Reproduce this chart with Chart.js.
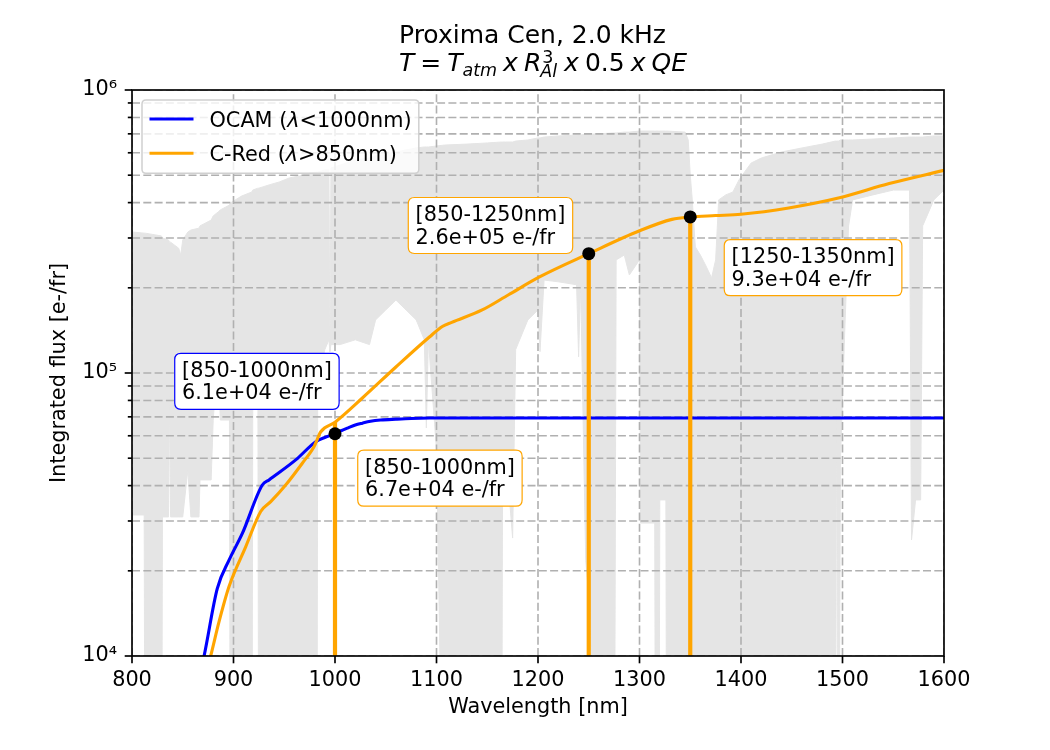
<!DOCTYPE html>
<html>
<head>
<meta charset="utf-8">
<script src="https://cdn.jsdelivr.net/npm/chart.js@4.4.1/dist/chart.umd.min.js"></script>
<style>
html,body{margin:0;padding:0;background:#ffffff;}
#wrap{width:1050px;height:750px;}
</style>
</head>
<body>
<div id="wrap"><canvas id="c" width="1050" height="750"></canvas></div>
<script>
// ---------------- data ----------------
const titleLine1 = 'Proxima Cen, 2.0 kHz';
const xTitle = 'Wavelength [nm]';
const yTitle = 'Integrated flux [e-/fr]';

const xTickValues = [800, 900, 1000, 1100, 1200, 1300, 1400, 1500, 1600];
const yTickValues = [1e4, 2e4, 3e4, 4e4, 5e4, 6e4, 7e4, 8e4, 9e4,
                     1e5, 2e5, 3e5, 4e5, 5e5, 6e5, 7e5, 8e5, 9e5, 1e6];
const yMajorValues = [1e4, 1e5, 1e6];
const yMajorLabels = ['10⁴', '10⁵', '10⁶'];

const seriesLabels = ['OCAM (λ<1000nm)', 'C-Red (λ>850nm)'];

const ocamWl   = [868, 871, 884, 895.6, 908.7, 928.4, 935, 961.3, 981, 991, 1000, 1006, 1013, 1020, 1027, 1035, 1045, 1060, 1075, 1093, 1200, 1600];
const ocamFlux = [9.0e3, 1.0e4, 1.73e4, 2.18e4, 2.71e4, 4.02e4, 4.19e4, 4.93e4, 5.72e4, 5.94e4, 6.1e4, 6.25e4, 6.4e4, 6.55e4, 6.65e4, 6.75e4, 6.82e4, 6.87e4, 6.91e4, 6.93e4, 6.93e4, 6.93e4];

const credWl   = [874, 877.5, 885.7, 895.6, 912, 926.8, 936.7, 951.4, 967.8, 979.3, 986, 1000, 1027, 1060, 1093, 1105.7, 1115, 1145, 1171, 1201, 1250, 1300, 1332, 1350, 1375, 1400, 1447, 1497, 1546, 1600];
const credFlux = [9.0e3, 1.0e4, 1.32e4, 1.76e4, 2.43e4, 3.24e4, 3.51e4, 4.02e4, 4.8e4, 5.49e4, 6.2e4, 6.7e4, 8.16e4, 1.05e5, 1.34e5, 1.46e5, 1.51e5, 1.67e5, 1.89e5, 2.18e5, 2.64e5, 3.18e5, 3.49e5, 3.56e5, 3.6e5, 3.64e5, 3.83e5, 4.16e5, 4.67e5, 5.2e5];

// band edges where integrated flux is marked
const markWl      = [1000, 1250, 1350];
const markFlux    = [6.1e4, 2.64e5, 3.56e5];
const markLineTop = [6.7e4, 2.64e5, 3.56e5];

// atmospheric transmission (scaled), upper and lower envelope of the dense spectrum
const atmWl = [800, 812, 813, 829, 830, 836, 837, 838, 846, 848, 850, 855, 858, 866, 867, 878, 880, 885, 887, 896, 897, 908, 918, 919, 924, 925, 935, 945, 955, 965, 975, 982, 983, 990, 994, 995, 996, 1005, 1020, 1034, 1040, 1050, 1060, 1070, 1080, 1088, 1090, 1092, 1100, 1108, 1130, 1150, 1164, 1165, 1168, 1175, 1178, 1190, 1200, 1202, 1206, 1220, 1238, 1240, 1242, 1247, 1252, 1255, 1275, 1277, 1285, 1290, 1300, 1301, 1315, 1316, 1319, 1320, 1326, 1327, 1345, 1348, 1350, 1352, 1355, 1360, 1365, 1371, 1375, 1378, 1385, 1392, 1398, 1405, 1410, 1420, 1440, 1460, 1480, 1493, 1494, 1496, 1498, 1502, 1506, 1510, 1530, 1550, 1566, 1568, 1572, 1577, 1579, 1590, 1600];
const atmUpper = [3.15e5, 3.12e5, 3.12e5, 3.05e5, 3.00e5, 2.95e5, 2.90e5, 2.90e5, 2.76e5, 2.61e5, 2.95e5, 3.15e5, 3.20e5, 3.25e5, 3.31e5, 3.47e5, 3.59e5, 3.71e5, 3.77e5, 3.92e5, 3.99e5, 4.22e5, 4.36e5, 4.43e5, 4.50e5, 4.50e5, 4.62e5, 4.73e5, 4.89e5, 4.97e5, 5.09e5, 5.13e5, 5.13e5, 5.22e5, 5.22e5, 1.19e5, 5.30e5, 5.43e5, 5.66e5, 5.75e5, 5.84e5, 5.94e5, 6.04e5, 6.14e5, 6.24e5, 6.29e5, 6.29e5, 6.29e5, 6.34e5, 6.39e5, 6.44e5, 6.50e5, 6.55e5, 6.55e5, 6.55e5, 6.55e5, 6.60e5, 6.66e5, 6.77e5, 6.77e5, 6.82e5, 6.88e5, 6.93e5, 6.93e5, 6.93e5, 6.99e5, 6.99e5, 6.99e5, 7.05e5, 7.05e5, 7.10e5, 7.10e5, 7.16e5, 7.16e5, 7.16e5, 7.16e5, 7.16e5, 7.16e5, 7.16e5, 7.16e5, 7.10e5, 6.66e5, 5.01e5, 4.09e5, 2.79e5, 2.61e5, 2.41e5, 2.17e5, 2.51e5, 4.09e5, 4.26e5, 4.36e5, 4.81e5, 5.22e5, 5.52e5, 5.75e5, 6.04e5, 6.24e5, 6.44e5, 6.60e5, 6.60e5, 6.60e5, 6.66e5, 6.66e5, 6.66e5, 6.66e5, 6.71e5, 6.77e5, 6.82e5, 6.82e5, 6.82e5, 6.82e5, 6.82e5, 6.88e5, 6.88e5];
const atmLower = [3.15e4, 3.15e4, 1e3, 1e3, 3.10e4, 3.10e4, 8.36e4, 3.10e4, 3.10e4, 3.10e4, 3.10e4, 4.54e4, 3.10e4, 3.10e4, 4.19e4, 4.19e4, 6.82e4, 1.21e5, 6.82e4, 6.82e4, 1e3, 1e3, 1e3, 9.45e4, 9.45e4, 1e3, 1e3, 1e3, 1e3, 1e3, 1e3, 1e3, 9.45e4, 1.21e5, 1.31e5, 1.19e5, 1.26e5, 1.26e5, 1.31e5, 1.26e5, 1.54e5, 1.67e5, 1.81e5, 1.67e5, 1.54e5, 1.31e5, 6.39e4, 1.31e5, 5.34e4, 1e3, 1e3, 1e3, 1e3, 3.36e4, 5.34e4, 2.61e4, 1.21e5, 1.54e5, 1.67e5, 1.19e5, 2.13e5, 2.10e5, 2.05e5, 1.14e5, 2.05e5, 2.18e4, 1.34e4, 1e3, 1e3, 2.51e5, 2.61e5, 2.22e5, 2.51e5, 2.95e4, 2.95e4, 1e3, 1e3, 3.56e4, 3.56e4, 1e3, 1e3, 1e3, 1e3, 1e3, 1e3, 1e3, 1e3, 1e3, 1e3, 1e3, 1e3, 1e3, 1e3, 1e3, 1e3, 1e3, 1e3, 1e3, 1e3, 1e3, 9.68e4, 1e3, 4.93e4, 1.33e5, 3.31e5, 4.09e5, 4.26e5, 4.43e5, 4.43e5, 2.57e4, 3.56e4, 3.56e4, 3.31e5, 4.09e5, 4.43e5];

// text boxes: [label lines], anchored at top-left corner in data coordinates
const annotations = [
  {lines: ['[850-1000nm]', '6.1e+04 e-/fr'],  wl: 842.1,  flux: 1.174e5, color: '#0000ff'},
  {lines: ['[850-1000nm]', '6.7e+04 e-/fr'],  wl: 1022.4, flux: 5.34e4,  color: '#ffa500'},
  {lines: ['[850-1250nm]', '2.6e+05 e-/fr'],  wl: 1072.2, flux: 4.17e5,  color: '#ffa500'},
  {lines: ['[1250-1350nm]', '9.3e+04 e-/fr'], wl: 1383.5, flux: 2.96e5,  color: '#ffa500'}
];

// ---------------- styling ----------------
const FONT = "'DejaVu Sans', 'Liberation Sans', sans-serif";
const FS = 20.8;
Chart.defaults.font.family = FONT;
Chart.defaults.font.size = FS;
Chart.defaults.color = '#000000';

const xy = (xs, ys) => xs.map((x, i) => ({x: x, y: ys[i]}));
const ATM_INDEX = 6;

function richWidth(ctx, segs) {
  let w = 0;
  segs.forEach(s => {
    if (s.gap) { w += s.gap; return; }
    ctx.font = (s.it ? 'italic ' : '') + (s.size || 25) + 'px ' + FONT;
    w += ctx.measureText(s.t).width;
  });
  return w;
}
function drawRich(ctx, segs, x, y) {
  segs.forEach(s => {
    if (s.gap) { x += s.gap; return; }
    if (s.sup !== undefined) {
      ctx.font = (s.size || 17.5) + 'px ' + FONT;
      const w1 = ctx.measureText(s.sup).width;
      ctx.fillText(s.sup, x + 1, y - 8.5);
      ctx.font = 'italic ' + (s.size || 17.5) + 'px ' + FONT;
      const w2 = ctx.measureText(s.sub).width;
      ctx.fillText(s.sub, x - 1, y + 6);
      x += Math.max(w1, w2);
      return;
    }
    ctx.font = (s.it ? 'italic ' : '') + (s.size || 25) + 'px ' + FONT;
    ctx.fillText(s.t, x, y + (s.dy || 0));
    x += ctx.measureText(s.t).width;
  });
}

const gridPlugin = {
  id: 'mplGrid',
  afterDatasetDraw(chart, args) {
    if (args.index !== ATM_INDEX) return;
    const {ctx, chartArea: a, scales: {x, y}} = chart;
    ctx.save();
    ctx.beginPath();
    ctx.rect(a.left, a.top, a.right - a.left, a.bottom - a.top);
    ctx.clip();
    ctx.strokeStyle = '#b0b0b0';
    ctx.lineWidth = 1.6;
    ctx.setLineDash([8, 3.3]);
    x.ticks.forEach(t => {
      const px = x.getPixelForValue(t.value);
      ctx.beginPath(); ctx.moveTo(px, a.bottom); ctx.lineTo(px, a.top); ctx.stroke();
    });
    y.ticks.forEach(t => {
      const py = y.getPixelForValue(t.value);
      ctx.beginPath(); ctx.moveTo(a.left, py); ctx.lineTo(a.right, py); ctx.stroke();
    });
    ctx.restore();
  }
};

function roundRect(ctx, x, y, w, h, r) {
  ctx.beginPath();
  ctx.moveTo(x + r, y);
  ctx.lineTo(x + w - r, y); ctx.quadraticCurveTo(x + w, y, x + w, y + r);
  ctx.lineTo(x + w, y + h - r); ctx.quadraticCurveTo(x + w, y + h, x + w - r, y + h);
  ctx.lineTo(x + r, y + h); ctx.quadraticCurveTo(x, y + h, x, y + h - r);
  ctx.lineTo(x, y + r); ctx.quadraticCurveTo(x, y, x + r, y);
  ctx.closePath();
}

const decorPlugin = {
  id: 'mplDecor',
  afterDraw(chart) {
    const {ctx, chartArea: a, scales: {x, y}} = chart;
    ctx.save();
    // ticks
    ctx.strokeStyle = '#000'; ctx.lineWidth = 1.67; ctx.setLineDash([]);
    x.ticks.forEach(t => {
      const px = x.getPixelForValue(t.value);
      ctx.beginPath(); ctx.moveTo(px, a.bottom); ctx.lineTo(px, a.bottom + 7.3); ctx.stroke();
    });
    y.ticks.forEach(t => {
      const py = y.getPixelForValue(t.value);
      const len = yMajorValues.includes(t.value) ? 7.3 : 4.2;
      ctx.beginPath(); ctx.moveTo(a.left, py); ctx.lineTo(a.left - len, py); ctx.stroke();
    });
    // frame
    ctx.strokeRect(a.left, a.top, a.right - a.left, a.bottom - a.top);

    // annotation boxes
    ctx.font = FS + 'px ' + FONT;
    ctx.textBaseline = 'alphabetic';
    ctx.textAlign = 'left';
    annotations.forEach(an => {
      const bx = x.getPixelForValue(an.wl);
      const by = y.getPixelForValue(an.flux);
      const tw = Math.max(...an.lines.map(l => ctx.measureText(l).width));
      const bw = tw + 14.6, bh = 56;
      roundRect(ctx, bx, by, bw, bh, 6.2);
      ctx.fillStyle = '#ffffff'; ctx.fill();
      ctx.strokeStyle = an.color; ctx.lineWidth = 1.2; ctx.stroke();
      ctx.fillStyle = '#000';
      ctx.fillText(an.lines[0], bx + 7.3, by + 23.5);
      ctx.fillText(an.lines[1], bx + 7.3, by + 46);
    });

    // legend
    const ds = chart.data.datasets;
    const legSegs = [
      [{t: 'OCAM (', size: FS}, {t: 'λ', it: 1, size: FS}, {t: '<1000nm)', size: FS}],
      [{t: 'C-Red (', size: FS}, {t: 'λ', it: 1, size: FS}, {t: '>850nm)', size: FS}]
    ];
    const lx = a.left + 10, ly = a.top + 10;
    const tmax = Math.max(...legSegs.map(s => richWidth(ctx, s)));
    const lw = 8.3 + 41.6 + 16.6 + tmax + 8.3, lh = 73.3;
    roundRect(ctx, lx, ly, lw, lh, 4);
    ctx.fillStyle = 'rgba(255,255,255,0.8)'; ctx.fill();
    ctx.strokeStyle = '#d0d0d0'; ctx.lineWidth = 1.5; ctx.stroke();
    [0, 1].forEach(i => {
      const cy = ly + 19 + i * 34.3;
      ctx.strokeStyle = ds[i].borderColor; ctx.lineWidth = 3.1;
      ctx.beginPath(); ctx.moveTo(lx + 7.5, cy); ctx.lineTo(lx + 51.5, cy); ctx.stroke();
      ctx.fillStyle = '#000';
      drawRich(ctx, legSegs[i], lx + 67.5, cy + 7.6);
    });

    // title
    ctx.fillStyle = '#000';
    ctx.font = '25px ' + FONT;
    ctx.fillText(titleLine1, 399, 42.5);
    const mathSegs = [
      {t: 'T', it: 1}, {gap: 6}, {t: '='}, {gap: 6}, {t: 'T', it: 1},
      {t: 'atm', it: 1, size: 17.5, dy: 5}, {gap: 6}, {t: 'x', it: 1}, {gap: 6},
      {t: 'R', it: 1}, {sup: '3', sub: 'Al'}, {gap: 6}, {t: 'x', it: 1}, {gap: 6},
      {t: '0.5'}, {gap: 6}, {t: 'x', it: 1}, {gap: 6}, {t: 'QE', it: 1}
    ];
    drawRich(ctx, mathSegs, 399, 71);
    ctx.restore();
  }
};

const yMin = yTickValues[0], yMax = yTickValues[yTickValues.length - 1];

const datasets = [
  {label: seriesLabels[0], data: xy(ocamWl, ocamFlux), borderColor: '#0000ff', borderWidth: 3.1,
   pointRadius: 0, fill: false, order: 5, borderJoinStyle: 'round', cubicInterpolationMode: 'monotone'},
  {label: seriesLabels[1], data: xy(credWl, credFlux), borderColor: '#ffa500', borderWidth: 3.1,
   pointRadius: 0, fill: false, order: 4, borderJoinStyle: 'round', cubicInterpolationMode: 'monotone'}
];
markWl.forEach((w, i) => datasets.push({
  label: 'band ' + w, data: [{x: w, y: yMin}, {x: w, y: markLineTop[i]}], borderColor: '#ffa500',
  borderWidth: 4.2, pointRadius: 0, fill: false, order: 3, borderCapStyle: 'butt'
}));
datasets.push({label: 'marks', data: xy(markWl, markFlux), showLine: false, pointRadius: 6.5,
  pointBackgroundColor: '#000', pointBorderWidth: 0, order: 1});
datasets.push({label: 'atm upper', data: xy(atmWl, atmUpper), borderColor: '#e5e5e5', backgroundColor: '#e5e5e5',
  borderWidth: 1, pointRadius: 0, fill: '+1', order: 9});
datasets.push({label: 'atm lower', data: xy(atmWl, atmLower), borderColor: '#e5e5e5',
  borderWidth: 1, pointRadius: 0, fill: false, order: 10});

new Chart(document.getElementById('c'), {
  type: 'line',
  data: {datasets: datasets},
  options: {
    responsive: false,
    devicePixelRatio: 1,
    animation: false,
    events: [],
    layout: {padding: {left: 0, top: 90, right: 106, bottom: 0}},
    plugins: {legend: {display: false}, tooltip: {enabled: false}, title: {display: false}},
    elements: {line: {tension: 0}},
    scales: {
      x: {
        type: 'linear', min: xTickValues[0], max: xTickValues[xTickValues.length - 1],
        afterBuildTicks: s => { s.ticks = xTickValues.map(v => ({value: v})); },
        afterFit: s => { s.height = 94; },
        ticks: {padding: 12, autoSkip: false, maxRotation: 0, callback: v => String(v), font: {size: FS}},
        grid: {display: false, drawTicks: false},
        border: {display: false},
        title: {display: true, text: xTitle, font: {size: FS}, padding: {top: 0, bottom: 29.5}}
      },
      y: {
        type: 'logarithmic', min: yMin, max: yMax,
        afterBuildTicks: s => { s.ticks = yTickValues.map(v => ({value: v})); },
        afterFit: s => { s.width = 132; },
        ticks: {padding: 15, autoSkip: false, font: {size: FS},
          callback: v => { const k = yMajorValues.indexOf(v); return k >= 0 ? yMajorLabels[k] : ''; }},
        grid: {display: false, drawTicks: false},
        border: {display: false},
        title: {display: true, text: yTitle, font: {size: FS}, padding: {top: 47.5, bottom: 0}}
      }
    }
  },
  plugins: [gridPlugin, decorPlugin]
});
</script>
</body>
</html>
